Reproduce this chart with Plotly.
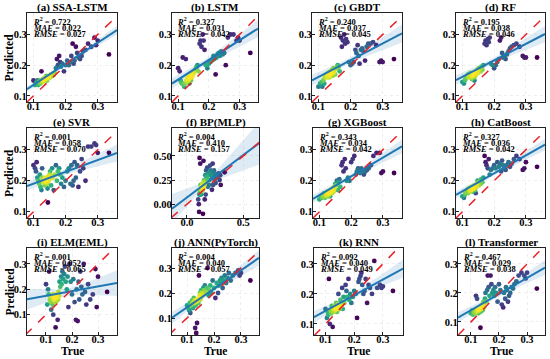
import numpy as np
import plotly.graph_objects as go

# ---------------- data ----------------
true_vals = [
    0.100, 0.105, 0.108, 0.110, 0.112, 0.115, 0.118, 0.120, 0.122, 0.125,
    0.127, 0.128, 0.130, 0.132, 0.134, 0.135, 0.137, 0.138, 0.140, 0.142,
    0.144, 0.145, 0.147, 0.148, 0.150, 0.152, 0.155, 0.158, 0.160, 0.163,
    0.166, 0.170, 0.173, 0.176, 0.180, 0.183, 0.186, 0.190, 0.195, 0.200,
    0.205, 0.210, 0.215, 0.218, 0.222, 0.225, 0.228, 0.232, 0.236, 0.240,
    0.245, 0.250, 0.255, 0.262, 0.270, 0.280, 0.290, 0.295, 0.300, 0.335]

pred_ssa_lstm = [
    0.150, 0.135, 0.140, 0.145, 0.150, 0.135, 0.145, 0.150, 0.140, 0.180,
    0.145, 0.150, 0.155, 0.150, 0.148, 0.155, 0.160, 0.150, 0.165, 0.150,
    0.155, 0.160, 0.158, 0.162, 0.165, 0.160, 0.170, 0.165, 0.172, 0.168,
    0.175, 0.190, 0.220, 0.200, 0.230, 0.210, 0.195, 0.205, 0.180, 0.200,
    0.215, 0.200, 0.210, 0.230, 0.270, 0.205, 0.215, 0.260, 0.240, 0.225,
    0.220, 0.230, 0.245, 0.250, 0.270, 0.260, 0.290, 0.265, 0.280, 0.235]
pred_lstm = [
    0.190, 0.180, 0.150, 0.145, 0.140, 0.225, 0.135, 0.130, 0.140, 0.220,
    0.150, 0.145, 0.155, 0.160, 0.150, 0.155, 0.140, 0.160, 0.165, 0.150,
    0.160, 0.170, 0.165, 0.175, 0.180, 0.175, 0.185, 0.190, 0.195, 0.200,
    0.180, 0.270, 0.280, 0.260, 0.300, 0.280, 0.250, 0.200, 0.190, 0.205,
    0.210, 0.215, 0.230, 0.220, 0.170, 0.225, 0.235, 0.240, 0.230, 0.245,
    0.235, 0.240, 0.200, 0.290, 0.300, 0.300, 0.280, 0.290, 0.280, 0.240]
pred_gbdt = [
    0.130, 0.140, 0.135, 0.145, 0.130, 0.150, 0.140, 0.160, 0.165, 0.170,
    0.160, 0.165, 0.175, 0.170, 0.160, 0.165, 0.180, 0.170, 0.175, 0.185,
    0.165, 0.180, 0.190, 0.175, 0.185, 0.170, 0.190, 0.195, 0.200, 0.195,
    0.180, 0.290, 0.260, 0.280, 0.300, 0.270, 0.285, 0.275, 0.210, 0.200,
    0.205, 0.210, 0.250, 0.240, 0.265, 0.230, 0.205, 0.250, 0.255, 0.245,
    0.215, 0.260, 0.270, 0.270, 0.275, 0.265, 0.210, 0.215, 0.210, 0.220]
pred_rf = [
    0.145, 0.140, 0.150, 0.155, 0.160, 0.165, 0.170, 0.160, 0.165, 0.175,
    0.170, 0.160, 0.155, 0.165, 0.170, 0.175, 0.160, 0.150, 0.165, 0.180,
    0.170, 0.175, 0.185, 0.180, 0.175, 0.190, 0.185, 0.180, 0.195, 0.185,
    0.200, 0.270, 0.280, 0.265, 0.285, 0.275, 0.290, 0.205, 0.200, 0.190,
    0.200, 0.210, 0.220, 0.280, 0.290, 0.240, 0.225, 0.230, 0.220, 0.235,
    0.245, 0.255, 0.260, 0.265, 0.270, 0.260, 0.230, 0.225, 0.225, 0.225]
pred_svr = [
    0.250, 0.240, 0.230, 0.260, 0.210, 0.200, 0.190, 0.220, 0.180, 0.170,
    0.240, 0.210, 0.200, 0.195, 0.205, 0.185, 0.210, 0.200, 0.195, 0.190,
    0.175, 0.130, 0.215, 0.200, 0.220, 0.230, 0.185, 0.240, 0.210, 0.170,
    0.220, 0.250, 0.200, 0.230, 0.240, 0.220, 0.190, 0.210, 0.180, 0.200,
    0.230, 0.240, 0.190, 0.250, 0.185, 0.200, 0.260, 0.210, 0.250, 0.180,
    0.230, 0.270, 0.240, 0.200, 0.310, 0.310, 0.320, 0.315, 0.290, 0.290]
pred_bp_mlp = [
    0.050, 0.000, -0.080, 0.100, 0.480, 0.120, 0.420, 0.150, 0.200, 0.100,
    0.180, 0.170, 0.160, 0.150, 0.190, 0.200, 0.140, 0.210, 0.180, -0.100,
    0.160, 0.170, 0.450, 0.230, 0.190, 0.250, 0.200, 0.050, 0.220, 0.300,
    0.100, 0.350, 0.280, 0.250, 0.380, 0.300, 0.180, 0.320, 0.200, 0.250,
    0.400, 0.350, 0.300, 0.330, 0.150, 0.280, 0.420, 0.200, 0.320, 0.350,
    0.250, 0.300, 0.220, 0.310, 0.280, 0.320, 0.250, 0.300, 0.200, 0.330]
pred_xgboost = [
    0.140, 0.150, 0.145, 0.155, 0.150, 0.160, 0.145, 0.150, 0.155, 0.165,
    0.150, 0.160, 0.155, 0.165, 0.150, 0.160, 0.170, 0.165, 0.160, 0.175,
    0.170, 0.165, 0.180, 0.175, 0.190, 0.185, 0.200, 0.170, 0.195, 0.205,
    0.180, 0.250, 0.260, 0.230, 0.270, 0.240, 0.200, 0.210, 0.200, 0.260,
    0.270, 0.280, 0.220, 0.230, 0.240, 0.235, 0.225, 0.240, 0.230, 0.220,
    0.230, 0.235, 0.240, 0.250, 0.280, 0.290, 0.290, 0.225, 0.230, 0.225]
pred_catboost = [
    0.150, 0.145, 0.155, 0.160, 0.165, 0.170, 0.160, 0.175, 0.165, 0.170,
    0.175, 0.180, 0.170, 0.165, 0.175, 0.180, 0.185, 0.175, 0.170, 0.160,
    0.180, 0.185, 0.190, 0.200, 0.195, 0.185, 0.200, 0.190, 0.205, 0.195,
    0.210, 0.280, 0.260, 0.250, 0.240, 0.270, 0.220, 0.235, 0.240, 0.250,
    0.240, 0.260, 0.245, 0.255, 0.230, 0.265, 0.250, 0.240, 0.235, 0.250,
    0.260, 0.245, 0.255, 0.270, 0.280, 0.270, 0.235, 0.240, 0.260, 0.245]
pred_elm = [
    0.220, 0.140, 0.200, 0.180, 0.270, 0.160, 0.150, 0.120, 0.170, 0.140,
    0.180, 0.100, 0.160, 0.170, 0.150, 0.175, 0.050, 0.165, 0.180, 0.155,
    0.170, 0.080, 0.160, 0.190, 0.175, 0.230, 0.210, 0.250, 0.220, 0.270,
    0.240, 0.260, 0.290, 0.230, 0.200, 0.250, 0.130, 0.300, 0.230, 0.180,
    0.240, 0.150, 0.080, 0.200, 0.075, 0.230, 0.160, 0.270, 0.210, 0.180,
    0.300, 0.190, 0.140, 0.220, 0.160, 0.180, 0.280, 0.130, 0.250, 0.190]
pred_ann = [
    0.150, 0.140, 0.130, 0.160, 0.120, 0.150, 0.170, 0.160, 0.140, 0.180,
    0.160, 0.170, 0.060, 0.150, 0.040, 0.165, 0.080, 0.175, 0.170, 0.160,
    0.270, 0.180, 0.190, 0.200, 0.175, 0.210, 0.200, 0.190, 0.220, 0.210,
    0.230, 0.200, 0.220, 0.300, 0.190, 0.210, 0.230, 0.200, 0.250, 0.220,
    0.180, 0.240, 0.200, 0.230, 0.250, 0.240, 0.260, 0.220, 0.250, 0.270,
    0.240, 0.260, 0.280, 0.250, 0.270, 0.280, 0.290, 0.270, 0.280, 0.250]
pred_rnn = [
    0.150, 0.120, 0.140, 0.130, 0.250, 0.100, 0.145, 0.135, 0.160, 0.090,
    0.150, 0.140, 0.155, 0.160, 0.145, 0.150, 0.170, 0.155, 0.140, 0.150,
    0.165, 0.200, 0.155, 0.160, 0.150, 0.180, 0.160, 0.220, 0.150, 0.190,
    0.170, 0.230, 0.210, 0.190, 0.250, 0.180, 0.200, 0.170, 0.190, 0.210,
    0.200, 0.120, 0.240, 0.250, 0.260, 0.270, 0.230, 0.200, 0.210, 0.250,
    0.170, 0.230, 0.220, 0.200, 0.310, 0.220, 0.230, 0.220, 0.225, 0.210]
pred_transformer = [
    0.130, 0.140, 0.125, 0.135, 0.140, 0.130, 0.190, 0.135, 0.180, 0.140,
    0.130, 0.145, 0.140, 0.150, 0.080, 0.135, 0.145, 0.150, 0.160, 0.140,
    0.155, 0.170, 0.150, 0.165, 0.180, 0.200, 0.170, 0.210, 0.260, 0.220,
    0.190, 0.260, 0.230, 0.200, 0.210, 0.190, 0.220, 0.200, 0.170, 0.230,
    0.210, 0.160, 0.150, 0.200, 0.180, 0.220, 0.210, 0.170, 0.190, 0.200,
    0.220, 0.215, 0.230, 0.240, 0.260, 0.270, 0.260, 0.250, 0.270, 0.215]

panel_titles = ["(a) SSA-LSTM", "(b) LSTM", "(c) GBDT", "(d) RF",
                "(e) SVR", "(f) BP(MLP)", "(g) XGBoost", "(h) CatBoost",
                "(i) ELM(EML)", "(j) ANN(PyTorch)", "(k) RNN", "(l) Transformer"]
r2_vals = ["0.722", "0.327", "0.240", "0.195", "0.001", "0.004",
           "0.343", "0.327", "0.001", "0.004", "0.092", "0.467"]
mae_vals = ["0.022", "0.031", "0.037", "0.038", "0.058", "0.410",
            "0.034", "0.036", "0.052", "0.040", "0.040", "0.029"]
rmse_vals = ["0.027", "0.042", "0.045", "0.046", "0.070", "0.157",
             "0.042", "0.042", "0.065", "0.057", "0.049", "0.038"]

predictions = [pred_ssa_lstm, pred_lstm, pred_gbdt, pred_rf,
               pred_svr, pred_bp_mlp, pred_xgboost, pred_catboost,
               pred_elm, pred_ann, pred_rnn, pred_transformer]

# ---------------- layout (pixels: left, right, top, bottom) ----------------
W, H = 550, 359
boxes = [(27, 117, 13, 102), (172, 258, 13, 102), (312, 402, 13, 102), (456, 545, 13, 102),
         (27, 117, 128, 218), (172, 259, 128, 218), (313, 402, 128, 218), (456, 545, 128, 218),
         (27, 117, 248, 335), (172, 259, 248, 335), (314, 403, 248, 335), (458, 545, 248, 335)]
xranges = [[0.08, 0.36]] * 8 + [[0.027, 0.373], [0.044, 0.367], [0.06, 0.37], [0.054, 0.364]]
yranges = [[0.08, 0.37]] * 8 + [[0.02, 0.363], [0.032, 0.38], [0.063, 0.353], [0.055, 0.355]]
xranges[5] = [-0.133, 0.64]
yranges[5] = [-0.143, 0.79]

FONT = "Liberation Serif"
BLUE = "#1f77b4"

def density(x, y):
    xy = np.vstack([x, y])
    n = xy.shape[1]
    bw = n ** (-1.0 / 6.0)
    cov = np.cov(xy) * bw ** 2
    inv = np.linalg.inv(cov)
    diff = xy[:, :, None] - xy[:, None, :]
    q = np.einsum('aij,ab,bij->ij', diff, inv, diff)
    return np.exp(-0.5 * q).sum(axis=1)

fig = go.Figure()
annotations = []
x_true = np.array(true_vals)

for k in range(12):
    xa = "x" if k == 0 else f"x{k+1}"
    ya = "y" if k == 0 else f"y{k+1}"
    xname = "xaxis" if k == 0 else f"xaxis{k+1}"
    yname = "yaxis" if k == 0 else f"yaxis{k+1}"
    l, r, t, b = boxes[k]
    y_pred = np.array(predictions[k])
    xr, yr = xranges[k], yranges[k]

    # regression + 95% CI
    n = len(x_true)
    slope, intercept = np.polyfit(x_true, y_pred, 1)
    xs = np.linspace(xr[0], xr[1], 60)
    ys = slope * xs + intercept
    resid = y_pred - (slope * x_true + intercept)
    s = np.sqrt(np.sum(resid ** 2) / (n - 2))
    xbar = x_true.mean()
    sxx = np.sum((x_true - xbar) ** 2)
    se = s * np.sqrt(1.0 / n + (xs - xbar) ** 2 / sxx)
    upper = ys + 2.0 * se
    lower = ys - 2.0 * se
    fig.add_trace(go.Scatter(x=np.concatenate([xs, xs[::-1]]),
                             y=np.concatenate([upper, lower[::-1]]),
                             fill="toself", fillcolor="rgba(31,119,180,0.15)",
                             line=dict(width=0), mode="lines", hoverinfo="skip",
                             xaxis=xa, yaxis=ya))
    # density-coloured scatter
    dens = density(x_true, y_pred)
    order = np.argsort(dens)
    fig.add_trace(go.Scatter(x=x_true[order], y=y_pred[order], mode="markers",
                             marker=dict(size=4.8, color=dens[order], colorscale="Viridis",
                                         line=dict(width=0)),
                             xaxis=xa, yaxis=ya))
    fig.add_trace(go.Scatter(x=xs, y=ys, mode="lines", line=dict(color=BLUE, width=2),
                             xaxis=xa, yaxis=ya))
    lo = min(xr[0], yr[0]); hi = max(xr[1], yr[1])
    fig.add_trace(go.Scatter(x=[lo, hi], y=[lo, hi], mode="lines",
                             line=dict(color="#e8222a", width=1.5, dash="dash"),
                             xaxis=xa, yaxis=ya))

    if k == 5:
        xt, xf = [0.0, 0.5], ".1f"
        yt, yf = [0.0, 0.25, 0.5], ".2f"
    else:
        xt, xf = [0.1, 0.2, 0.3], ".1f"
        yt, yf = [0.1, 0.2, 0.3], ".1f"
    common = dict(showline=True, linecolor="#222222", linewidth=1.3, mirror=True,
                  ticks="inside", ticklen=3, tickwidth=1, tickcolor="#222222",
                  showgrid=True, gridcolor="#eeeeee", gridwidth=0.6, griddash="dot",
                  zeroline=False,
                  tickfont=dict(family=FONT, size=10.5, color="black", weight="bold"))
    fig.update_layout({
        xname: dict(domain=[l / W, r / W], range=xr, anchor=ya, tickvals=xt,
                    tickformat=xf, ticklabelstandoff=-6, **common),
        yname: dict(domain=[1 - b / H, 1 - t / H], range=yr, anchor=xa, tickvals=yt,
                    tickformat=yf, ticklabelstandoff=-3, **common),
    })

    dx = f"{xa} domain"; dy = f"{ya} domain"
    annotations.append(dict(text=f"<b>{panel_titles[k]}</b>", xref=dx, yref=dy,
                            x=0.5, y=1, yanchor="bottom", xanchor="center", yshift=-3,
                            showarrow=False, font=dict(family=FONT, size=11, color="black")))
    lines = [f"<b><i>R</i><sup>2</sup> = {r2_vals[k]}</b>",
             f"<b><i>MAE</i> = {mae_vals[k]}</b>",
             f"<b><i>RMSE</i> = {rmse_vals[k]}</b>"]
    for j, txt in enumerate(lines):
        annotations.append(dict(text=txt, xref=dx, yref=dy, x=0.04, y=1,
                                xanchor="left", yanchor="middle", yshift=-8 - 6.7 * j,
                                showarrow=False,
                                font=dict(family=FONT, size=8.5, color="black")))
    if k % 4 == 0:
        annotations.append(dict(text="<b>Predicted</b>", xref="paper", yref=dy,
                                x=9 / W, y=0.5, xanchor="center", yanchor="middle",
                                textangle=-90, showarrow=False,
                                font=dict(family=FONT, size=11.5, color="black")))
    if k >= 8:
        annotations.append(dict(text="<b>True</b>", xref=dx, yref="paper",
                                x=0.5, y=1 - 351 / H, xanchor="center", yanchor="middle",
                                showarrow=False,
                                font=dict(family=FONT, size=11.5, color="black")))

fig.update_layout(width=W, height=H, margin=dict(l=0, r=0, t=0, b=0),
                  plot_bgcolor="white", paper_bgcolor="white", showlegend=False,
                  annotations=annotations)

fig.write_html("out.html", config={"displayModeBar": False},
               post_script="document.body.style.margin='0px';")
